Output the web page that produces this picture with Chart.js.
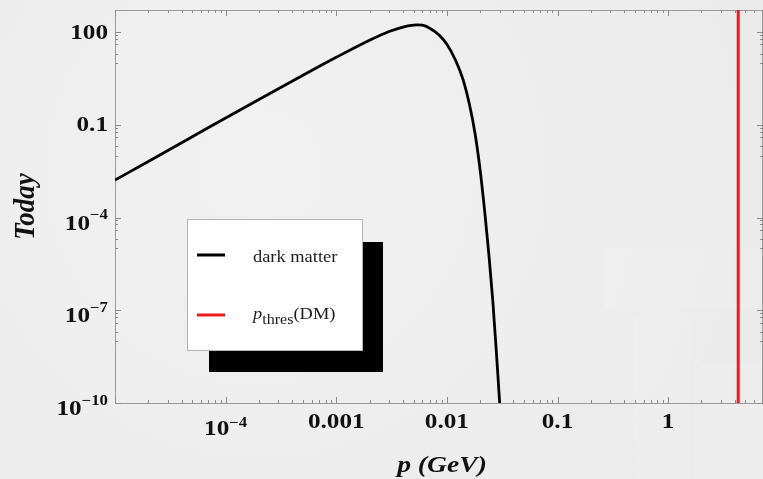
<!DOCTYPE html>
<html>
<head>
<meta charset="utf-8">
<script src="https://cdn.jsdelivr.net/npm/chart.js@4"></script>
<style>
  html, body { margin: 0; padding: 0; background: #ebebeb; overflow: hidden; }
  canvas { display: block; }
</style>
</head>
<body>
<canvas id="chart" width="763" height="479"></canvas>
<script>
// Momentum (GeV) and the dark-matter momentum distribution today
const momentumGeV = [1e-5, 2e-5, 5e-5, 1e-4, 2e-4, 5e-4, 1e-3, 2e-3, 3e-3, 4e-3, 5e-3, 5.4e-3, 6e-3, 7e-3,
                     8.5e-3, 1e-2, 1.2e-2, 1.4e-2, 1.6e-2, 1.8e-2, 2e-2, 2.2e-2, 2.4e-2, 2.6e-2, 2.8e-2, 3e-2];
const darkMatterToday = [1.62e-3, 6.5e-3, 0.041, 0.166, 0.66, 4.0, 15.2, 54, 104, 145, 167, 170, 166, 133,
                         80, 40, 12, 2.9, 0.45, 0.05, 3.3e-3, 1.5e-4, 6e-6, 2e-7, 4.5e-9, 1e-10];
// Threshold momentum for dark matter (GeV)
const pThresholdGeV = 4.3;
const seriesLabels = ['dark matter', 'p_thres(DM)'];

// Axis ranges and labelled ticks
const xRange = [1e-5, 7.2];
const yRange = [1e-10, 515];
const xTickValues = [1e-4, 1e-3, 1e-2, 0.1, 1];
const xTickLabels = ['10^-4', '0.001', '0.01', '0.1', '1'];
const yTickValues = [100, 0.1, 1e-4, 1e-7, 1e-10];
const yTickLabels = ['100', '0.1', '10^-4', '10^-7', '10^-10'];

const RED = '#f0191e';
const SERIF = '"Liberation Serif", "Times New Roman", serif';
const SX = 1.2;   // horizontal stretch of the typeset labels

function putText(ctx, t, x, y, font, sx) {
  ctx.save();
  ctx.font = font;
  ctx.textAlign = 'left';
  ctx.textBaseline = 'alphabetic';
  ctx.translate(x, y);
  ctx.scale(sx, 1);
  ctx.fillText(t, 0, 0);
  ctx.restore();
}
function textW(ctx, t, font, sx) {
  ctx.save(); ctx.font = font;
  const w = ctx.measureText(t).width * sx;
  ctx.restore();
  return w;
}
function splitLabel(s) {
  const i = s.indexOf('^');
  return i < 0 ? { base: s, exp: null } : { base: s.slice(0, i), exp: s.slice(i + 1).replace('-', '\u2212') };
}

const background = {
  id: 'background',
  beforeDraw(chart) {
    const { ctx, width, height } = chart;
    ctx.save();
    ctx.fillStyle = '#ebebeb';
    ctx.fillRect(0, 0, width, height);
    const g = ctx.createRadialGradient(260, 170, 20, 260, 170, 520);
    g.addColorStop(0, 'rgba(255,255,255,0.3)');
    g.addColorStop(1, 'rgba(255,255,255,0)');
    ctx.fillStyle = g;
    ctx.fillRect(0, 0, width, height);
    // faint panels in the lower right of the backdrop
    ctx.fillStyle = 'rgba(255,255,255,0.12)';
    ctx.fillRect(605, 248, 160, 60);
    ctx.fillRect(635, 315, 55, 165);
    ctx.fillRect(700, 365, 63, 114);
    ctx.restore();
  }
};

const frame = {
  id: 'frame',
  beforeDatasetsDraw(chart) {
    const { ctx, chartArea: a, scales: { x, y } } = chart;
    ctx.save();
    ctx.strokeStyle = '#9a9a9a';
    ctx.lineWidth = 1;
    ctx.beginPath();
    ctx.moveTo(a.left + 0.5, a.top + 0.5); ctx.lineTo(a.right - 0.5, a.top + 0.5);
    ctx.lineTo(a.right - 0.5, a.bottom + 0.5); ctx.lineTo(a.left + 0.5, a.bottom + 0.5);
    ctx.closePath();
    ctx.stroke();

    // x ticks: decades with 2..9 minors, on bottom and top
    ctx.strokeStyle = '#8a8a8a';
    ctx.beginPath();
    for (let k = Math.floor(Math.log10(xRange[0])); k <= Math.ceil(Math.log10(xRange[1])); k++) {
      for (let m = 1; m <= 9; m++) {
        const v = m * Math.pow(10, k);
        if (v < xRange[0] || v > xRange[1]) continue;
        const px = Math.round(x.getPixelForValue(v)) + 0.5;
        const len = m === 1 ? 6 : 3;
        ctx.moveTo(px, a.bottom); ctx.lineTo(px, a.bottom - len);
        ctx.moveTo(px, a.top); ctx.lineTo(px, a.top + len);
      }
    }
    // y ticks: labelled values with minors in the decade below, on left and right
    yTickValues.forEach(v => {
      [1, 0.8, 0.6, 0.4, 0.2, 0.1].forEach(f => {
        const val = v * f;
        if (val < yRange[0] || val > yRange[1]) return;
        const py = Math.round(y.getPixelForValue(val)) + 0.5;
        const len = f === 1 ? 6 : 3;
        ctx.moveTo(a.left, py); ctx.lineTo(a.left + len, py);
        ctx.moveTo(a.right, py); ctx.lineTo(a.right - len, py);
      });
    });
    ctx.stroke();

    // tick labels
    const fBase = 'bold 21px ' + SERIF;
    const fExp = 'bold 14px ' + SERIF;
    ctx.fillStyle = '#111';
    xTickValues.forEach((v, i) => {
      const px = x.getPixelForValue(v);
      const { base, exp } = splitLabel(xTickLabels[i]);
      const wb = textW(ctx, base, fBase, SX);
      const we = exp ? textW(ctx, exp, fExp, SX) : 0;
      const left = px - (wb + we) / 2;
      if (exp) {
        putText(ctx, base, left, a.bottom + 32, fBase, SX);
        putText(ctx, exp, left + wb, a.bottom + 24, fExp, SX);
      } else {
        putText(ctx, base, left, a.bottom + 25, fBase, SX);
      }
    });
    yTickValues.forEach((v, i) => {
      const py = y.getPixelForValue(v);
      const { base, exp } = splitLabel(yTickLabels[i]);
      const wb = textW(ctx, base, fBase, SX);
      const we = exp ? textW(ctx, exp, fExp, SX) : 0;
      const right = a.left - 7;
      if (exp) {
        putText(ctx, base, right - wb - we, py + 12, fBase, SX);
        putText(ctx, exp, right - we, py + 1.5, fExp, SX);
      } else {
        putText(ctx, base, right - wb, py + 6.5, fBase, SX);
      }
    });

    // axis titles
    const fTitle = 'italic bold 23px ' + SERIF;
    const xt = 'p (GeV)';
    const wx = textW(ctx, xt, fTitle, SX);
    putText(ctx, xt, (a.left + a.right) / 2 + 3 - wx / 2, 472, fTitle, SX);

    ctx.save();
    ctx.translate(34, (a.top + a.bottom) / 2);
    ctx.rotate(-Math.PI / 2);
    ctx.scale(1, 1.12);
    ctx.font = 'italic bold 27px ' + SERIF;
    ctx.textAlign = 'center';
    ctx.textBaseline = 'alphabetic';
    ctx.fillText('Today', 0, 0);
    ctx.restore();
    ctx.restore();
  }
};

const legendBox = {
  id: 'legendBox',
  afterDatasetsDraw(chart) {
    const { ctx } = chart;
    const ds = chart.data.datasets;
    ctx.save();
    ctx.fillStyle = '#000';
    ctx.fillRect(209, 242, 174, 130);
    ctx.fillStyle = '#fff';
    ctx.fillRect(187, 219, 175, 131);
    ctx.strokeStyle = '#b4b4b4';
    ctx.lineWidth = 1;
    ctx.strokeRect(187.5, 219.5, 175, 131);

    const rows = [255, 315];
    const LS = 1.15;
    ds.forEach((d, i) => {
      const yy = rows[i];
      ctx.strokeStyle = d.borderColor;
      ctx.lineWidth = 3;
      ctx.beginPath();
      ctx.moveTo(197, yy); ctx.lineTo(225, yy);
      ctx.stroke();
      ctx.fillStyle = '#1b1b24';
      const label = d.label;
      const us = label.indexOf('_');
      if (us < 0) {
        putText(ctx, label, 253, yy + 7, '16px ' + SERIF, LS);
      } else {
        const main = label.slice(0, us);
        const rest = label.slice(us + 1);
        const p = rest.indexOf('(');
        const sub = rest.slice(0, p), tail = rest.slice(p);
        const fI = 'italic 16px ' + SERIF, fS = '14px ' + SERIF, fR = '16px ' + SERIF;
        let xx = 253;
        putText(ctx, main, xx, yy + 4, fI, LS); xx += textW(ctx, main, fI, LS);
        putText(ctx, sub, xx, yy + 9, fS, LS); xx += textW(ctx, sub, fS, LS);
        putText(ctx, tail, xx, yy + 4, fR, LS);
      }
    });
    ctx.restore();
  }
};

new Chart(document.getElementById('chart'), {
  type: 'line',
  data: {
    datasets: [
      {
        label: seriesLabels[0],
        data: momentumGeV.map((p, i) => ({ x: p, y: darkMatterToday[i] })),
        borderColor: '#000',
        borderWidth: 2.8,
        cubicInterpolationMode: 'monotone',
        pointRadius: 0,
        fill: false
      },
      {
        label: seriesLabels[1],
        data: [{ x: pThresholdGeV, y: yRange[0] }, { x: pThresholdGeV, y: yRange[1] }],
        borderColor: RED,
        borderWidth: 3,
        tension: 0,
        pointRadius: 0,
        fill: false
      }
    ]
  },
  options: {
    responsive: false,
    animation: false,
    devicePixelRatio: 1,
    layout: { padding: { left: 115, top: 10, right: 0, bottom: 76 } },
    plugins: { legend: { display: false }, tooltip: { enabled: false } },
    scales: {
      x: { type: 'logarithmic', min: xRange[0], max: xRange[1], display: false },
      y: { type: 'logarithmic', min: yRange[0], max: yRange[1], display: false }
    }
  },
  plugins: [background, frame, legendBox]
});
</script>
</body>
</html>
